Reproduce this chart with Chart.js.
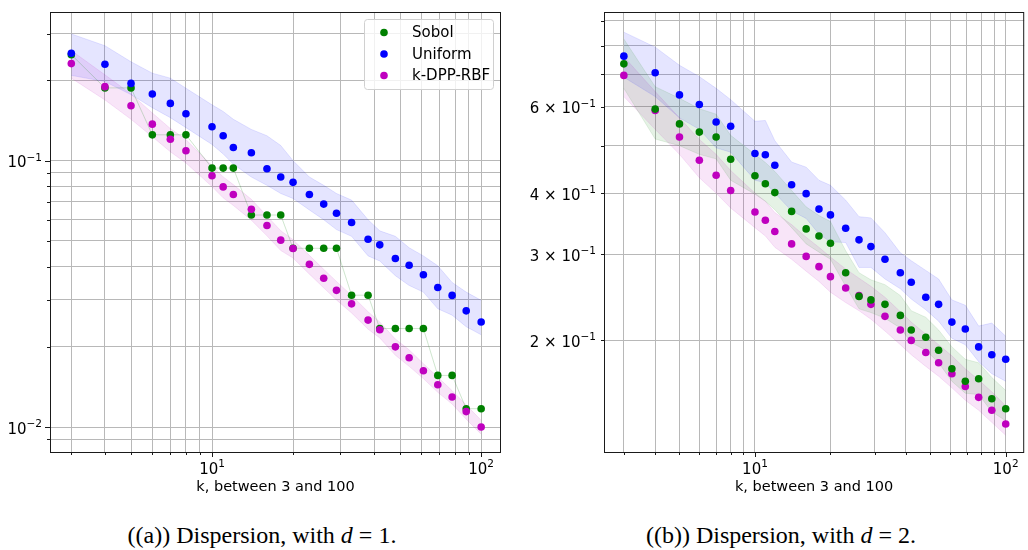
<!DOCTYPE html>
<html>
<head>
<meta charset="utf-8">
<title>Dispersion</title>
<script src="https://cdn.jsdelivr.net/npm/chart.js@4.4.1/dist/chart.umd.min.js"></script>
<style>
    html, body { margin: 0; padding: 0; background: #fff; }
    body { position: relative; width: 1028px; height: 550px; overflow: hidden; }
    .panel { position: absolute; top: 0; height: 500px; }
    #panel-a { left: 0; width: 515px; }
    #panel-b { left: 520px; width: 508px; }
    .caption {
        position: absolute; top: 523px; white-space: nowrap;
        font-family: 'Liberation Serif', 'Times New Roman', serif; font-size: 24px; line-height: 24px;
        color: #000; transform: translateX(-50%);
    }
    #caption-a { left: 262px; }
    #caption-b { left: 781px; }
</style>
</head>
<body>
<div class="panel" id="panel-a"><canvas id="dispersion-d1"></canvas></div>
<div class="panel" id="panel-b"><canvas id="dispersion-d2"></canvas></div>
<div class="caption" id="caption-a">((a)) Dispersion, with <i>d</i> = 1.</div>
<div class="caption" id="caption-b">((b)) Dispersion, with <i>d</i> = 2.</div>

<script>
// k values (x axis)
const kValues = [3, 4, 5, 6, 7, 8, 10, 11, 12, 14, 16, 18, 20, 23, 26, 29, 33, 38, 42, 48, 54, 61, 69, 78, 88, 100];

const seriesLabels = ['Sobol', 'Uniform', 'k-DPP-RBF'];
const seriesColors = ['#008000', '#0000ff', '#bf00bf'];
const bandColors = ['rgba(0,128,0,0.1)', 'rgba(0,0,255,0.1)', 'rgba(191,0,191,0.1)'];

// d = 1
const sobolD1 = [0.25, 0.1875, 0.1875, 0.125, 0.125, 0.125, 0.09375, 0.09375, 0.09375, 0.0625, 0.0625, 0.0625,
    0.046875, 0.046875, 0.046875, 0.046875, 0.03125, 0.03125, 0.0234375, 0.0234375, 0.0234375, 0.0234375,
    0.015625, 0.015625, 0.01171875, 0.01171875];
const uniformD1 = [0.253, 0.230, 0.195, 0.178, 0.164, 0.150, 0.134, 0.124, 0.112, 0.107, 0.0932, 0.0868, 0.0829,
    0.0746, 0.0687, 0.0635, 0.0586, 0.0507, 0.0483, 0.0429, 0.0405, 0.0373, 0.0334, 0.0312, 0.0273, 0.0248];
const uniformD1Upper = [0.299, 0.270, 0.235, 0.213, 0.204, 0.187, 0.162, 0.153, 0.143, 0.131, 0.124, 0.114, 0.100,
    0.0868, 0.0808, 0.0753, 0.0711, 0.0600, 0.0545, 0.0520, 0.0471, 0.0439, 0.0403, 0.0349, 0.0321, 0.0299];
const uniformD1Lower = [0.209, 0.198, 0.177, 0.158, 0.145, 0.133, 0.115, 0.106, 0.097, 0.0868, 0.0808, 0.0753, 0.0721,
    0.0653, 0.0600, 0.0551, 0.0520, 0.0439, 0.0420, 0.0370, 0.0340, 0.0321, 0.0278, 0.0263, 0.0238, 0.0222];
const dppD1 = [0.2314, 0.1896, 0.1608, 0.1371, 0.1203, 0.1089, 0.0878, 0.0797, 0.0746, 0.0657, 0.0571, 0.0503, 0.0468,
    0.0408, 0.0362, 0.0326, 0.0290, 0.0252, 0.0232, 0.0200, 0.0182, 0.01626, 0.01442, 0.01297, 0.01143, 0.0100];
const dppD1Upper = [0.259, 0.210, 0.178, 0.151, 0.132, 0.120, 0.0957, 0.0869, 0.0813, 0.0716, 0.0620, 0.0546, 0.0505,
    0.0441, 0.0391, 0.0352, 0.0312, 0.0271, 0.0248, 0.0214, 0.0195, 0.0173, 0.0154, 0.0137, 0.0121, 0.0106];
const dppD1Lower = [0.204, 0.169, 0.143, 0.123, 0.108, 0.098, 0.0799, 0.0725, 0.0679, 0.0598, 0.0522, 0.0460, 0.0431,
    0.0375, 0.0333, 0.0300, 0.0268, 0.0233, 0.0216, 0.0186, 0.0169, 0.0152, 0.0135, 0.0122, 0.0107, 0.0094];

// d = 2
const sobolD2 = [0.735, 0.594, 0.554, 0.533, 0.521, 0.469, 0.434, 0.418, 0.401, 0.367, 0.338, 0.327, 0.316,
    0.275, 0.246, 0.242, 0.237, 0.225, 0.210, 0.203, 0.191, 0.175, 0.165, 0.167, 0.152, 0.145];
const sobolD2Upper = [0.826, 0.660, 0.625, 0.595, 0.580, 0.525, 0.480, 0.462, 0.443, 0.405, 0.375, 0.360, 0.350,
    0.305, 0.275, 0.266, 0.260, 0.247, 0.230, 0.223, 0.210, 0.194, 0.183, 0.180, 0.168, 0.158];
const sobolD2Lower = [0.655, 0.516, 0.500, 0.480, 0.470, 0.425, 0.398, 0.385, 0.370, 0.340, 0.315, 0.303, 0.293,
    0.258, 0.232, 0.228, 0.222, 0.212, 0.198, 0.191, 0.180, 0.165, 0.156, 0.155, 0.143, 0.137];
const uniformD2 = [0.762, 0.705, 0.635, 0.607, 0.559, 0.548, 0.482, 0.479, 0.456, 0.416, 0.399, 0.371, 0.361,
    0.339, 0.321, 0.311, 0.293, 0.275, 0.263, 0.245, 0.237, 0.218, 0.211, 0.194, 0.187, 0.183];
const uniformD2Upper = [0.853, 0.795, 0.730, 0.692, 0.655, 0.621, 0.561, 0.563, 0.512, 0.463, 0.452, 0.425, 0.415,
    0.387, 0.358, 0.356, 0.332, 0.302, 0.291, 0.278, 0.267, 0.242, 0.236, 0.214, 0.217, 0.204];
const uniformD2Lower = [0.690, 0.630, 0.570, 0.540, 0.495, 0.485, 0.425, 0.420, 0.400, 0.368, 0.355, 0.330, 0.318,
    0.317, 0.282, 0.282, 0.267, 0.255, 0.243, 0.231, 0.219, 0.202, 0.196, 0.181, 0.171, 0.165];
const dppD2 = [0.696, 0.590, 0.521, 0.467, 0.435, 0.405, 0.366, 0.352, 0.334, 0.315, 0.297, 0.283, 0.270,
    0.256, 0.247, 0.237, 0.224, 0.210, 0.200, 0.189, 0.180, 0.171, 0.161, 0.153, 0.144, 0.135];
const dppD2Upper = [0.760, 0.645, 0.570, 0.515, 0.480, 0.445, 0.400, 0.385, 0.365, 0.345, 0.325, 0.310, 0.296,
    0.280, 0.268, 0.258, 0.245, 0.229, 0.218, 0.206, 0.196, 0.186, 0.175, 0.166, 0.157, 0.147];
const dppD2Lower = [0.630, 0.540, 0.480, 0.430, 0.400, 0.373, 0.340, 0.327, 0.310, 0.293, 0.277, 0.264, 0.251,
    0.239, 0.230, 0.221, 0.209, 0.196, 0.187, 0.177, 0.169, 0.160, 0.151, 0.144, 0.136, 0.128];

// ticks
const xTickValues = [3, 4, 5, 6, 7, 8, 9, 10, 20, 30, 40, 50, 60, 70, 80, 90, 100];
const xTickLabels = ['', '', '', '', '', '', '', '10¹', '', '', '', '', '', '', '', '', '10²'];
const xMajor = [10, 100];

const yTickValuesD1 = [0.009, 0.01, 0.02, 0.03, 0.04, 0.05, 0.06, 0.07, 0.08, 0.09, 0.1, 0.2, 0.3];
const yTickLabelsD1 = ['', '10⁻²', '', '', '', '', '', '', '', '', '10⁻¹', '', ''];
const yMajorD1 = [0.01, 0.1];

const yTickValuesD2 = [0.2, 0.3, 0.4, 0.5, 0.6, 0.7, 0.8, 0.9];
const yTickLabelsD2 = ['2 × 10⁻¹', '3 × 10⁻¹', '4 × 10⁻¹', '', '6 × 10⁻¹', '', '', ''];
const yMajorD2 = [];

const xTitle = 'k, between 3 and 100';

const FONT = "'DejaVu Sans', sans-serif";
const BASE_SIZE = 15;
const EXP_SIZE = 10.5;

function toPoints(values) {
    return values.map((v, i) => ({x: kValues[i], y: v}));
}

// "10⁻¹" -> ["10", "−1"] so the exponent can be drawn smaller and raised, like mathtext
const SUPERSCRIPTS = {'⁻': '−', '¹': '1', '²': '2'};
function splitExponent(text) {
    const chars = [...text];
    const i = chars.findIndex(c => SUPERSCRIPTS[c]);
    if (i < 0) return [text, ''];
    return [chars.slice(0, i).join(''), chars.slice(i).map(c => SUPERSCRIPTS[c]).join('')];
}

function drawPowerLabel(ctx, text, x, baseline, align) {
    if (!text) return;
    const [base, exp] = splitExponent(text);
    ctx.font = BASE_SIZE + 'px ' + FONT;
    const wb = ctx.measureText(base).width;
    ctx.font = EXP_SIZE + 'px ' + FONT;
    const we = ctx.measureText(exp).width;
    const total = wb + we;
    const x0 = align === 'center' ? x - total / 2 : x - total;
    ctx.font = BASE_SIZE + 'px ' + FONT;
    ctx.fillText(base, x0, baseline);
    ctx.font = EXP_SIZE + 'px ' + FONT;
    ctx.fillText(exp, x0 + wb, baseline - 6.5);
}

// spines on all four sides, matplotlib style tick marks and tick labels
const framePlugin = {
    id: 'frame',
    afterDatasetsDraw(chart, args, opts) {
        const {ctx, chartArea: a, scales} = chart;
        ctx.save();
        ctx.strokeStyle = '#1a1a1a';
        ctx.lineWidth = 1;
        ctx.strokeRect(a.left + 0.5, a.top + 0.5, a.right - a.left - 1, a.bottom - a.top);
        ctx.beginPath();
        scales.x.ticks.forEach(t => {
            const px = Math.round(scales.x.getPixelForValue(t.value)) + 0.5;
            const len = opts.xMajor.includes(t.value) ? 5 : 3;
            ctx.moveTo(px, a.bottom);
            ctx.lineTo(px, a.bottom + len);
        });
        scales.y.ticks.forEach(t => {
            const py = Math.round(scales.y.getPixelForValue(t.value)) + 0.5;
            const len = opts.yMajor.includes(t.value) ? 5 : 3;
            ctx.moveTo(a.left, py);
            ctx.lineTo(a.left - len, py);
        });
        ctx.stroke();

        ctx.fillStyle = '#000';
        ctx.textBaseline = 'alphabetic';
        ctx.textAlign = 'left';
        opts.xValues.forEach((v, i) => {
            drawPowerLabel(ctx, opts.xLabels[i], scales.x.getPixelForValue(v), a.bottom + 21.5, 'center');
        });
        opts.yValues.forEach((v, i) => {
            drawPowerLabel(ctx, opts.yLabels[i], a.left - 8, scales.y.getPixelForValue(v) + 6.5, 'right');
        });
        ctx.restore();
    }
};

// framed legend in the upper right corner of the plot area
const boxLegendPlugin = {
    id: 'boxLegend',
    afterDraw(chart, args, opts) {
        if (!opts.show) return;
        const {ctx, chartArea: a} = chart;
        const w = 129, h = 70;
        const x0 = a.right - 8 - w;
        const y0 = a.top + 7;
        ctx.save();
        ctx.beginPath();
        ctx.roundRect(x0 + 0.5, y0 + 0.5, w, h, 3);
        ctx.fillStyle = 'rgba(255,255,255,0.8)';
        ctx.fill();
        ctx.strokeStyle = '#d0d0d0';
        ctx.lineWidth = 1;
        ctx.stroke();
        ctx.font = '15px ' + FONT;
        ctx.textBaseline = 'middle';
        seriesLabels.forEach((label, i) => {
            const cy = y0 + 13.5 + i * 21.5;
            ctx.beginPath();
            ctx.arc(x0 + 20, cy, 3.8, 0, Math.PI * 2);
            ctx.fillStyle = seriesColors[i];
            ctx.fill();
            ctx.fillStyle = '#000';
            ctx.fillText(label, x0 + 48, cy + 1);
        });
        ctx.restore();
    }
};

function pointSet(label, values, color) {
    return {
        label: label,
        data: toPoints(values),
        showLine: false,
        pointRadius: 3.8,
        pointHoverRadius: 3.8,
        pointBorderWidth: 0,
        pointBorderColor: color,
        pointBackgroundColor: color,
        borderColor: color,
    };
}

function bandSets(upper, lower, color) {
    const common = {
        showLine: true,
        pointRadius: 0,
        pointHoverRadius: 0,
        borderWidth: 1,
        borderColor: color,
        backgroundColor: color,
        tension: 0,
    };
    return [
        Object.assign({label: 'upper', data: toPoints(upper), fill: false}, common),
        Object.assign({label: 'lower', data: toPoints(lower), fill: '-1'}, common),
    ];
}

function createChart(canvasId, cfg) {
    const ctx = document.getElementById(canvasId).getContext('2d');
    const tickFont = {family: FONT, size: BASE_SIZE};

    return new Chart(ctx, {
        type: 'line',
        data: {datasets: cfg.datasets},
        options: {
            responsive: true,
            maintainAspectRatio: false,
            animation: false,
            events: [],
            layout: {padding: cfg.padding},
            scales: {
                x: {
                    type: 'logarithmic',
                    min: 2.5,
                    max: 118.5,
                    afterBuildTicks: s => { s.ticks = xTickValues.map(v => ({value: v})); },
                    afterFit: s => { s.height = 48; },
                    // labels are drawn by the frame plugin (superscript exponents)
                    ticks: {autoSkip: false, maxRotation: 0, minRotation: 0, font: tickFont, callback: () => ''},
                    grid: {color: '#b8b8b8', lineWidth: 1, tickLength: 5, tickColor: 'rgba(0,0,0,0)'},
                    border: {display: false},
                    title: {
                        display: true,
                        text: xTitle,
                        color: '#000',
                        font: {family: FONT, size: 14.5},
                        padding: {top: 0, bottom: 4},
                    },
                },
                y: {
                    type: 'logarithmic',
                    min: cfg.yMin,
                    max: cfg.yMax,
                    afterBuildTicks: s => { s.ticks = cfg.yTicks.map(v => ({value: v})); },
                    afterFit: s => { s.width = cfg.yWidth; },
                    ticks: {autoSkip: false, font: tickFont, callback: () => ''},
                    grid: {color: '#b8b8b8', lineWidth: 1, tickLength: 5, tickColor: 'rgba(0,0,0,0)'},
                    border: {display: false},
                },
            },
            plugins: {
                legend: {display: false},
                tooltip: {enabled: false},
                filler: {drawTime: 'beforeDatasetsDraw'},
                frame: {
                    xMajor: xMajor, yMajor: cfg.yMajor,
                    xValues: xTickValues, xLabels: xTickLabels,
                    yValues: cfg.yTicks, yLabels: cfg.yLabels,
                },
                boxLegend: {show: cfg.legend},
            },
        },
        plugins: [framePlugin, boxLegendPlugin],
    });
}

// (a) d = 1 : first dataset is drawn on top -> k-DPP over Uniform over Sobol
createChart('dispersion-d1', {
    datasets: [
        pointSet(seriesLabels[2], dppD1, seriesColors[2]),
        pointSet(seriesLabels[1], uniformD1, seriesColors[1]),
        pointSet(seriesLabels[0], sobolD1, seriesColors[0]),
        ...bandSets(sobolD1, sobolD1, bandColors[0]),
        ...bandSets(uniformD1Upper, uniformD1Lower, bandColors[1]),
        ...bandSets(dppD1Upper, dppD1Lower, bandColors[2]),
    ],
    yMin: 0.00806,
    yMax: 0.3614,
    yTicks: yTickValuesD1,
    yLabels: yTickLabelsD1,
    yMajor: yMajorD1,
    yWidth: 50,
    padding: {top: 6, right: 14, left: 0, bottom: 0},
    legend: true,
});

// (b) d = 2 : Sobol over Uniform over k-DPP
createChart('dispersion-d2', {
    datasets: [
        pointSet(seriesLabels[0], sobolD2, seriesColors[0]),
        pointSet(seriesLabels[1], uniformD2, seriesColors[1]),
        pointSet(seriesLabels[2], dppD2, seriesColors[2]),
        ...bandSets(sobolD2Upper, sobolD2Lower, bandColors[0]),
        ...bandSets(uniformD2Upper, uniformD2Lower, bandColors[1]),
        ...bandSets(dppD2Upper, dppD2Lower, bandColors[2]),
    ],
    yMin: 0.1183,
    yMax: 0.938,
    yTicks: yTickValuesD2,
    yLabels: yTickLabelsD2,
    yMajor: yMajorD2,
    yWidth: 84,
    padding: {top: 6, right: 1, left: 0, bottom: 0},
    legend: false,
});
</script>
</body>
</html>
